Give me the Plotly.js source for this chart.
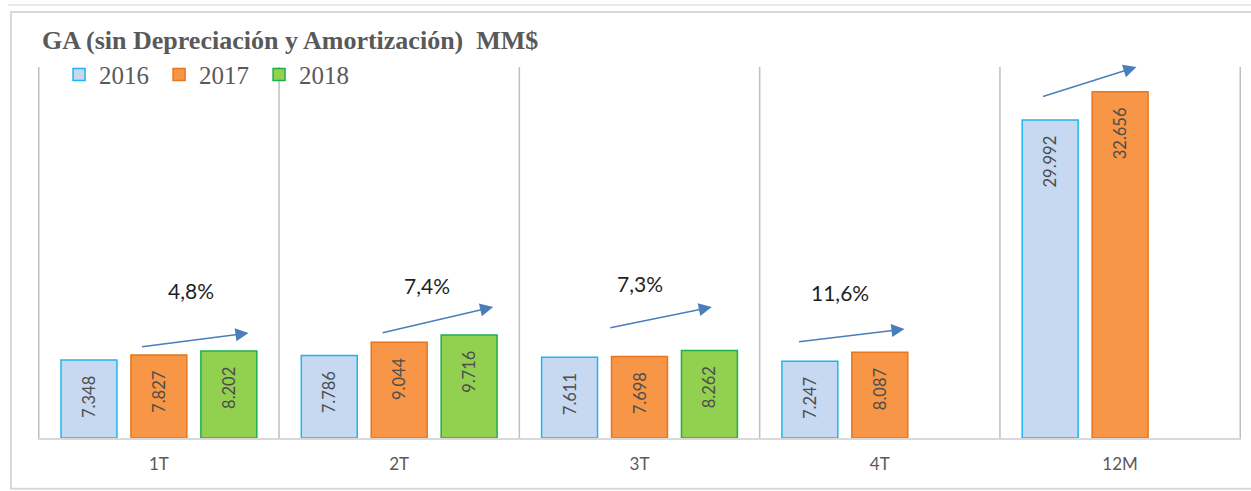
<!DOCTYPE html>
<html>
<head>
<meta charset="utf-8">
<script src="https://cdn.plot.ly/plotly-3.0.1.min.js"></script>
<style>
  body { margin: 0; background: #fff; }
  #chart { width: 1251px; height: 491px; }
</style>
</head>
<body>
<div id="chart"></div>
<script>
// GA sin depreciación ni amortización, MM$
const categories = ['1T', '2T', '3T', '4T', '12M'];
const ga2016 = [7348, 7786, 7611, 7247, 29992];
const ga2017 = [7827, 9044, 7698, 8087, 32656];
const ga2018 = [8202, 9716, 8262, null, null];
const growth = [4.8, 7.4, 7.3, 11.6, 8.9];

// where the growth arrows and labels sit (offset from category, y, tail offset in px)
const arrowPlace = [
  {dx: 0.373, y: 9906,  ax: -108, ay: 14, tx: 0.132,  ty: 13962},
  {dx: 0.391, y: 12358, ax: -112, ay: 26, tx: 0.117,  ty: 14434},
  {dx: 0.301, y: 12358, ax: -103, ay: 21, tx: 0.002,  ty: 14623},
  {dx: 0.103, y: 10283, ax: -107, ay: 13, tx: -0.167, ty: 13774},
  {dx: 0.068, y: 35000, ax: -95,  ay: 30, tx: -0.161, ty: 37075}
];

const pad = '\u00a0\u00a0\u00a0';

function barTrace(name, values, fill, edge) {
  return {
    type: 'bar',
    name: name,
    x: categories,
    y: values,
    marker: {color: fill, line: {color: edge, width: 1.5}},
    texttemplate: '%{y:,.0f}' + pad,
    textposition: 'inside',
    insidetextanchor: 'end',
    textangle: -90,
    textfont: {family: 'Lato, sans-serif', size: 16.5, color: '#4d4d4d'},
    hoverinfo: 'skip'
  };
}

const data = [
  barTrace('2016', ga2016, '#c6d9f1', '#1fb5ee'),
  barTrace('2017', ga2017, '#f79646', '#e8761c'),
  barTrace('2018', ga2018, '#92d050', '#1faf4b')
];

const annotations = [];
categories.forEach((c, i) => {
  const p = arrowPlace[i];
  annotations.push({
    xref: 'x', yref: 'y', x: i + p.dx, y: p.y,
    ax: p.ax, ay: p.ay, text: '',
    showarrow: true, arrowhead: 2, arrowsize: 1.75, arrowwidth: 1.5,
    arrowcolor: '#4a7ebb', standoff: 0
  });
  annotations.push({
    xref: 'x', yref: 'y', x: i + p.tx, y: p.ty,
    text: growth[i].toFixed(1).replace('.', ',') + '%',
    showarrow: false,
    font: {family: 'Lato, sans-serif', size: 21, color: '#1f1f1f'}
  });
});

const shapes = [];
for (let k = -0.5; k <= 4.5; k += 1) {
  shapes.push({
    type: 'line', xref: 'x', yref: 'paper', x0: k, x1: k, y0: 0, y1: 1,
    line: {color: '#bfbfbf', width: 1.5}, layer: 'below'
  });
}
// outer frame
shapes.push({
  type: 'rect', xref: 'paper', yref: 'paper',
  x0: -0.0225, x1: 1.03, y0: -0.137, y1: 1.148,
  line: {color: '#d9d9d9', width: 2}
});
shapes.push({
  type: 'line', xref: 'paper', yref: 'paper',
  x0: -0.025, x1: 1.03, y0: 1.167, y1: 1.167,
  line: {color: '#e3e3e3', width: 1.5}
});

const layout = {
  width: 1251,
  height: 491,
  margin: {l: 38, r: 10, t: 67, b: 53},
  paper_bgcolor: '#ffffff',
  plot_bgcolor: '#ffffff',
  separators: ',.',
  barmode: 'group',
  bargap: 0.127,
  bargroupgap: 0.2,
  title: {
    text: '<b>GA (sin Depreciación y Amortización)\u00a0 MM$</b>',
    font: {family: 'Liberation Serif, Times New Roman, serif', size: 26, color: '#595959'},
    x: 42 / 1251, xanchor: 'left', xref: 'container',
    y: 1 - 40 / 491, yanchor: 'middle', yref: 'container'
  },
  showlegend: true,
  legend: {
    orientation: 'h',
    x: 0.0175, xanchor: 'left',
    y: 1.041, yanchor: 'top',
    font: {family: 'Liberation Serif, Times New Roman, serif', size: 25, color: '#595959'},
    bgcolor: 'rgba(0,0,0,0)',
    entrywidth: 55,
    traceorder: 'normal'
  },
  xaxis: {
    type: 'category',
    showline: true,
    linecolor: '#d9d9d9',
    linewidth: 1.5,
    showgrid: false,
    ticks: '',
    tickfont: {family: 'Lato, sans-serif', size: 17, color: '#595959'},
    ticklabelstandoff: 10,
    fixedrange: true
  },
  yaxis: {
    range: [0, 35000],
    showgrid: false,
    zeroline: false,
    showticklabels: false,
    ticks: '',
    fixedrange: true
  },
  annotations: annotations,
  shapes: shapes
};

Plotly.newPlot('chart', data, layout, {displayModeBar: false, staticPlot: true});
</script>
</body>
</html>
